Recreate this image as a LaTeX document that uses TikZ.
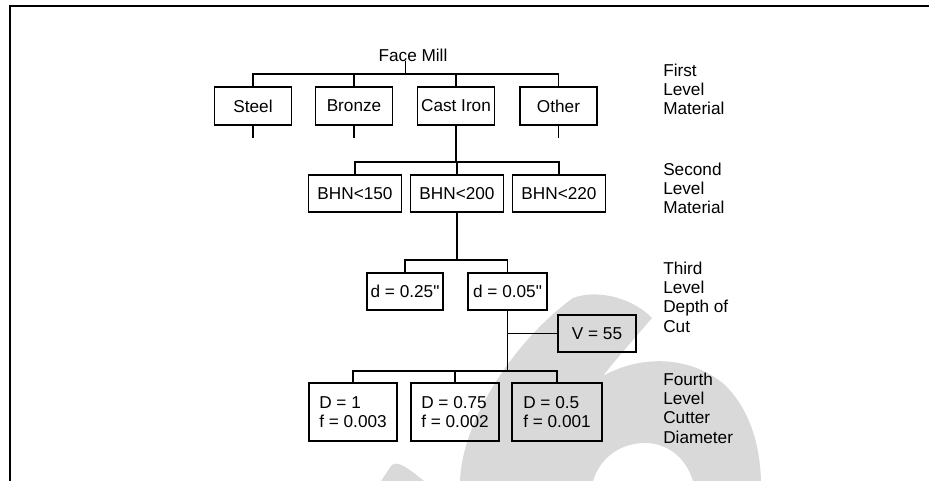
\documentclass[tikz,border=0pt]{standalone}
\usepackage{fontspec}
\setmainfont{Liberation Sans}[Ligatures=TeXOff]
\begin{document}
\begin{tikzpicture}[x=0.75pt,y=-0.75pt,
  every node/.style={font=\fontsize{12.9}{14.5}\selectfont},
  box/.style={draw, line width=0.9pt, inner sep=2pt},
  lone/.style={box, minimum width=57.75pt, minimum height=28.5pt},
  ltwo/.style={box, minimum width=69.75pt, minimum height=27.75pt},
  lthree/.style={box, minimum width=58.5pt, minimum height=27.75pt},
  lfour/.style={box, minimum width=66pt, minimum height=43.5pt, align=left},
  lvl/.style={anchor=west, align=left, inner sep=0pt},
  link/.style={line width=0.9pt},
  frame/.style={line width=1.5pt},
  wm/.style={fill=gray!30, draw=none}]
\useasboundingbox (0,0) rectangle (929,481);
% watermark
\fill[wm] (573,298) .. controls (600,288) and (635,300) .. (652,318)
  .. controls (635,338) and (615,360) .. (603,376)
  .. controls (640,355) and (690,355) .. (725,385)
  .. controls (750,410) and (760,445) .. (761,481)
  -- (693,481)
  .. controls (685,455) and (665,443) .. (645,443)
  .. controls (620,443) and (600,458) .. (593,481)
  -- (460,481)
  .. controls (462,420) and (515,340) .. (573,298) -- cycle;
\fill[wm] (381,481) -- (391,466) .. controls (396,461) and (402,463) .. (424,481) -- cycle;
% frame
\draw[frame] (10,481) -- (10,6) -- (929,6);
% nodes
\node (fm) at (413,55) {Face Mill};
\node[lone] (steel) at (253,106) {Steel};
\node[lone] (bronze) at (354,106) {Bronze};
\node[lone] (cast) at (456,106) {Cast Iron};
\node[lone] (other) at (558.5,106) {Other};
\node[ltwo] (b150) at (355,193.5) {BHN<150};
\node[ltwo] (b200) at (457,193.5) {BHN<200};
\node[ltwo] (b220) at (559,193.5) {BHN<220};
\node[lthree, minimum width=57pt] (d25) at (405,291.5) {d = 0.25"};
\node[lthree, minimum width=59.25pt] (d05) at (507.5,291.5) {d = 0.05"};
\node[lthree] (v55) at (597,333.5) {V = 55};
\node[lfour] (D1) at (353,412) {D = 1\\f = 0.003};
\node[lfour] (D075) at (455,412) {D = 0.75\\f = 0.002};
\node[lfour, minimum width=67.5pt] (D05) at (557,412) {D = 0.5\\f = 0.001};
% level labels
\node[lvl] (l1) at (663,89.5) {First\\Level\\Material};
\node[lvl] (l2) at (663,188.5) {Second\\Level\\Material};
\node[lvl] (l3) at (663,297) {Third\\Level\\Depth of\\Cut};
\node[lvl] (l4) at (663,408) {Fourth\\Level\\Cutter\\Diameter};
% junctions
\coordinate (j1) at (405.5,74);
\coordinate (j2) at (456,162);
\coordinate (j3) at (457,260);
\coordinate (j4) at (507.5,371);
% connectors
\draw[link] (j1 |- fm.base) -- (j1);
\draw[link] (steel.north) |- (j1) -| (other.north);
\draw[link] (bronze.north) -- (bronze.north |- j1);
\draw[link] (cast.north) -- (cast.north |- j1);
\draw[link] (steel.south) -- ++(0,12);
\draw[link] (bronze.south) -- ++(0,12);
\draw[link] (other.south) -- ++(0,12);
\draw[link] (cast.south) -- (j2);
\draw[link] (b150.north) |- (j2) -| (b220.north);
\draw[link] (b200.north) -- (b200.north |- j2);
\draw[link] (b200.south) -- (j3);
\draw[link] (d25.north) |- (j3) -| (d05.north);
\draw[link] (d05.south) -- (j4);
\draw[link] (v55.west) -- (v55.west -| j4);
\draw[link] (D1.north) |- (j4) -| (D05.north);
\draw[link] (D075.north) -- (D075.north |- j4);
\end{tikzpicture}
\end{document}
